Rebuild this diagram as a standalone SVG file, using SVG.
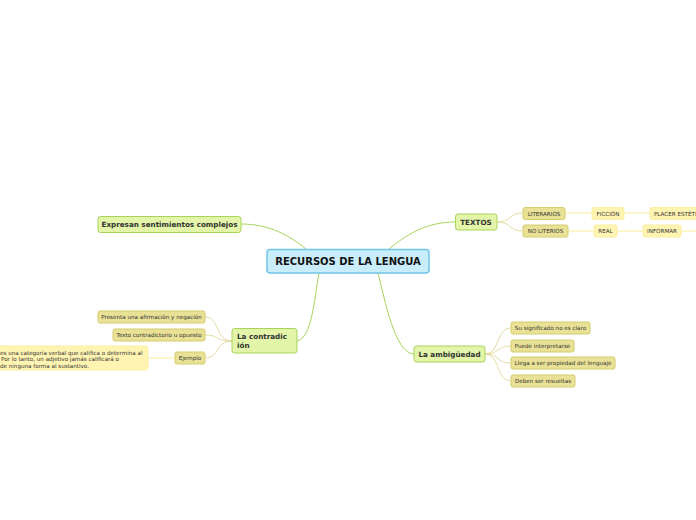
<svg xmlns="http://www.w3.org/2000/svg" width="696" height="520" viewBox="0 0 696 520">
<style>
.main rect{fill:#e2f5a8;stroke:#a9d45c;stroke-width:1}
.main text{font-family:"DejaVu Sans",Verdana,sans-serif;font-weight:bold;font-size:7.2px;fill:#333}
.sub rect{fill:#e8e196;stroke:#d6cc6e;stroke-width:1}
.sub text{font-family:"DejaVu Sans",Verdana,sans-serif;font-size:5.6px;fill:#333}
.leaf rect{fill:#fff4b2;stroke:#fbeea0;stroke-width:1}
.leaf text{font-family:"DejaVu Sans",Verdana,sans-serif;font-size:5.6px;fill:#333}
.c1{fill:none;stroke:#a9d45c;stroke-width:1}
.c2{fill:none;stroke:#dcd48e;stroke-width:0.8}
.c3{fill:none;stroke:#fdf0b0;stroke-width:1.2}
</style>
<g id="connectors">
<path class="c1" d="M306,249 C290,236 270,224 241,224"/>
<path class="c1" d="M389,249 C405,236 425,222 455,222"/>
<path class="c1" d="M319,273 C314,300 312,338 297,341"/>
<path class="c1" d="M378,273 C385,300 395,354 414,354"/>
<path class="c2" d="M497,222 C512,222 508,213 523,213"/>
<path class="c2" d="M497,222 C512,222 508,231 523,231"/>
<path class="c3" d="M565,213 L592,213"/>
<path class="c3" d="M624,213 L650,213"/>
<path class="c3" d="M568,231 L594,231"/>
<path class="c3" d="M617,231 L643,231"/>
<path class="c3" d="M681,231 L696,231"/>
<path class="c2" d="M232,341 C215,341 220,317 205,317"/>
<path class="c2" d="M232,341 C215,341 220,335 205,335"/>
<path class="c2" d="M232,341 C215,341 220,358 205,358"/>
<path class="c3" d="M148,358 L175,358"/>
<path class="c2" d="M485,354 C500,354 496,328 511,328"/>
<path class="c2" d="M485,354 C500,354 496,346 511,346"/>
<path class="c2" d="M485,354 C500,354 496,363 511,363"/>
<path class="c2" d="M485,354 C500,354 496,381 511,381"/>
</g>
<g id="root">
<rect x="267" y="249.5" width="162" height="23.5" rx="3" fill="#c9edfb" stroke="#72c3e8" stroke-width="1.5"/>
<text x="348" y="265" text-anchor="middle" font-family="DejaVu Sans,Verdana,sans-serif" font-weight="bold" font-size="10" fill="#111">RECURSOS DE LA LENGUA</text>
</g>
<g id="n-expresan" class="main">
<rect x="98" y="216.5" width="143" height="16" rx="2.5"/>
<text x="169.5" y="227" text-anchor="middle">Expresan sentimientos complejos</text>
</g>
<g id="n-textos" class="main">
<rect x="455.5" y="214" width="41.5" height="16" rx="2.5"/>
<text x="476" y="224.8" text-anchor="middle">TEXTOS</text>
</g>
<g id="n-literarios" class="sub">
<rect x="523" y="207.5" width="42" height="12" rx="2"/>
<text x="544" y="215.5" text-anchor="middle">LITERARIOS</text>
</g>
<g id="n-noliterios" class="sub">
<rect x="523" y="225" width="45" height="12" rx="2"/>
<text x="545.5" y="233" text-anchor="middle">NO LITERIOS</text>
</g>
<g id="n-ficcion" class="leaf">
<rect x="592" y="207.5" width="32" height="12" rx="2"/>
<text x="608" y="215.5" text-anchor="middle">FICCIÓN</text>
</g>
<g id="n-placer" class="leaf">
<rect x="650" y="207.5" width="52" height="12" rx="2"/>
<text x="654" y="215.5">PLACER ESTÉTICO</text>
</g>
<g id="n-real" class="leaf">
<rect x="594" y="225" width="23" height="12" rx="2"/>
<text x="605.5" y="233" text-anchor="middle">REAL</text>
</g>
<g id="n-informar" class="leaf">
<rect x="643" y="225" width="38" height="12" rx="2"/>
<text x="662" y="233" text-anchor="middle">INFORMAR</text>
</g>
<g id="n-contradiccion" class="main">
<rect x="232" y="328.5" width="65" height="24.5" rx="2.5"/>
<text x="237" y="339">La contradic</text>
<text x="237" y="348">ión</text>
</g>
<g id="n-presenta" class="sub">
<rect x="98" y="311" width="107" height="12" rx="2"/>
<text x="151.5" y="319" text-anchor="middle">Presenta una afirmación y negación</text>
</g>
<g id="n-texto" class="sub">
<rect x="113" y="329" width="92" height="12" rx="2"/>
<text x="159" y="337" text-anchor="middle">Texto contradictorio u opuesto</text>
</g>
<g id="n-ejemplo" class="sub">
<rect x="175" y="352" width="30" height="12" rx="2"/>
<text x="190" y="360" text-anchor="middle">Ejemplo</text>
</g>
<g id="n-ejtexto" class="leaf">
<rect x="-10" y="346" width="158" height="24" rx="3"/>
<text x="0" y="354.5">es una categoría verbal que califica o determina al</text>
<text x="1" y="361">Por lo tanto, un adjetivo jamás calificará o</text>
<text x="0" y="367.5">de ninguna forma al sustantivo.</text>
</g>
<g id="n-ambiguedad" class="main">
<rect x="414" y="346" width="71" height="16" rx="2.5"/>
<text x="449.5" y="356.8" text-anchor="middle">La ambigüedad</text>
</g>
<g id="n-su" class="sub">
<rect x="511" y="322" width="79" height="12" rx="2"/>
<text x="550.5" y="330" text-anchor="middle">Su significado no es claro</text>
</g>
<g id="n-puede" class="sub">
<rect x="511" y="340" width="63" height="12" rx="2"/>
<text x="542.5" y="348" text-anchor="middle">Puede interpretarse</text>
</g>
<g id="n-llega" class="sub">
<rect x="511" y="357" width="104" height="12" rx="2"/>
<text x="563" y="365" text-anchor="middle">Llega a ser propiedad del lenguaje</text>
</g>
<g id="n-deben" class="sub">
<rect x="511" y="375" width="64" height="12" rx="2"/>
<text x="543" y="383" text-anchor="middle">Deben ser resueltas</text>
</g>
</svg>
